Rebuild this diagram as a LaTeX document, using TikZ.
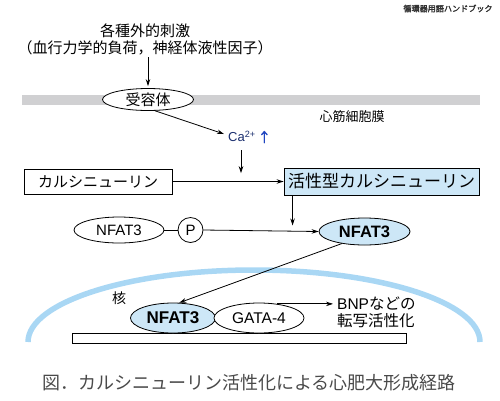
\documentclass[tikz,border=0pt]{standalone}
\usepackage{fontspec}
\setmainfont{Liberation Sans}
\newfontfamily\jp[AutoFakeBold=2.5]{Noto Sans CJK JP}
\usetikzlibrary{shapes.geometric,arrows.meta}
\definecolor{memgray}{HTML}{D0D0D2}
\definecolor{lblue}{HTML}{CDE7F7}
\definecolor{nucblue}{HTML}{A9D7F4}
\definecolor{canavy}{HTML}{1A2E6E}
\definecolor{upblue}{HTML}{1F45C0}
\definecolor{capgray}{HTML}{4A4A4A}
\newcommand{\fs}[1]{\fontsize{#1}{#1}\selectfont}
\begin{document}
\begin{tikzpicture}[x=1pt,y=-1pt,
  arr/.style={-{Stealth[length=7pt,width=4.5pt]}, line width=0.8pt},
  ell/.style={ellipse, draw, line width=0.8pt, inner sep=0pt},
  box/.style={rectangle, draw, line width=0.9pt, inner sep=0pt},
  jtext/.style={inner sep=0pt, font=\jp\fs{15}}]
\useasboundingbox (0,0) rectangle (500,400);

% header
\node[inner sep=0pt, font=\jp\bfseries\fs{8.1}, text=black!80] (hdr) at (448,8.5) {循環器用語ハンドブック};

% stimulus
\node[jtext] (t1) at (145,31) {各種外的刺激};
\node[jtext] (t2) at (145,48) {（血行力学的負荷，神経体液性因子）};

% membrane
\fill[memgray] (22,95) rectangle (480,104.5);
\node[ell, fill=white, minimum width=91pt, minimum height=22pt, font=\jp\fs{15}] (rec) at (148,99.5) {受容体};
\node[jtext, font=\jp\fs{13}] (mem) at (352,117) {心筋細胞膜};
\draw[arr, shorten <=2pt, shorten >=2pt] (t2.south -| rec.north) -- (rec.north);

% Ca
\node[inner sep=0pt, anchor=west, font=\fs{13}] (ca) at (228,137) {\textcolor{canavy}{Ca\textsuperscript{2+}}\,\textcolor{upblue}{\jp\bfseries ↑}};
\draw[arr] (rec.-58) -- ([xshift=-4pt,yshift=3pt]ca.west);
\draw[arr] ([xshift=13pt,yshift=-7pt]ca.south west) -- ++(0,23);

% calcineurin
\node[box, minimum width=148pt, minimum height=25pt, font=\jp\fs{15}] (cn) at (98,181.5) {カルシニューリン};
\node[box, fill=lblue, minimum width=195pt, minimum height=27pt, font=\jp\fs{17}] (acn) at (381.5,181.5) {活性型カルシニューリン};
\draw[arr] (cn.east) -- (acn.west);
\draw[arr] ([xshift=9pt]acn.south west) -- ++(0,30);

% NFAT3 row
\node[ell, minimum width=90pt, minimum height=26pt, font=\fs{15}] (nf1) at (119,230) {NFAT3};
\node[circle, draw, line width=0.8pt, inner sep=0pt, minimum size=25pt, font=\fs{15}] (p) at (190.5,230) {P};
\node[ell, fill=lblue, minimum width=91pt, minimum height=27pt, font=\bfseries\fs{16.5}] (nf2) at (364.5,231.5) {NFAT3};
\draw[line width=0.8pt] (nf1.east) -- (p.west);
\draw[arr] (p.east) -- (nf2.west);

% nucleus
\draw[nucblue, line width=5.5pt] (28,342) arc[start angle=180, end angle=360, x radius=226, y radius=72];
\node[jtext, font=\jp\fs{14}] (kaku) at (119,298) {核};
\node[box, minimum width=334pt, minimum height=10pt] (dna) at (239,338) {};
\node[ell, fill=lblue, minimum width=85pt, minimum height=30pt, font=\bfseries\fs{17}] (nn) at (173,318) {NFAT3};
\node[ell, fill=white, minimum width=90pt, minimum height=30pt, font=\fs{15.5}] (gata) at (259,318) {GATA-4};
\draw[line width=0.8pt] (gata.-44) -- (gata.-44 |- dna.north);
\draw[arr] (nf2.-152) -- (nn.68);
\node[inner sep=0pt, anchor=west, align=left, font=\jp\fontsize{15.5}{16.5}\selectfont] (bnp) at (337,312.5) {\fontspec{Liberation Sans}BNP\jp などの\\転写活性化};
\draw[arr] (gata.38) -- ([xshift=-4pt]gata.38 -| bnp.west);

% caption
\node[inner sep=0pt, font=\jp\fs{18}, text=capgray] (cap) at (249,383) {図．カルシニューリン活性化による心肥大形成経路};
\end{tikzpicture}
\end{document}
